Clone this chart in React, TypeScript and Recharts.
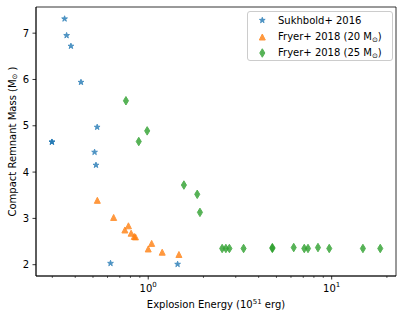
import React from 'react';
import { ScatterChart, Scatter, XAxis, YAxis, ReferenceArea, Legend } from 'recharts';

const sukhboldEnergy = [0.35, 0.359, 0.379, 0.43, 0.527, 0.2985, 0.2985, 0.51, 0.519, 0.623, 1.446];
const sukhboldMass = [7.31, 6.95, 6.72, 5.94, 4.97, 4.65, 4.65, 4.43, 4.15, 2.03, 2.01];

const fryer20Energy = [0.528, 0.648, 0.78, 0.746, 0.807, 0.839, 0.852, 1.0, 1.044, 1.192, 1.47];
const fryer20Mass = [3.39, 3.02, 2.84, 2.75, 2.68, 2.61, 2.6, 2.34, 2.46, 2.27, 2.22];

const fryer25Energy = [0.756, 0.987, 0.888, 1.565, 1.85, 1.914, 2.53, 2.65, 2.77, 3.31, 4.75, 4.75, 6.21, 7.09, 7.43, 8.42, 9.7, 14.8, 18.4];
const fryer25Mass = [5.54, 4.89, 4.66, 3.72, 3.52, 3.13, 2.35, 2.35, 2.35, 2.35, 2.35, 2.37, 2.37, 2.35, 2.35, 2.37, 2.35, 2.35, 2.35];

const seriesNames = ['Sukhbold+ 2016', 'Fryer+ 2018 (20 M', 'Fryer+ 2018 (25 M'];
const xTicks = [0.3, 0.4, 0.5, 0.6, 0.7, 0.8, 0.9, 1, 2, 3, 4, 5, 6, 7, 8, 9, 10, 20];
const yTicks = [2, 3, 4, 5, 6, 7];
const xDomain = [0.2445, 22.42];
const yDomain = [1.756, 7.565];

const BLUE = '#1f77b4';
const ORANGE = '#ff7f0e';
const GREEN = '#2ca02c';
const FONT = 'DejaVu Sans';

const toPoints = (xs: number[], ys: number[]) => xs.map((x, i) => ({ x, y: ys[i] }));
const sukhbold = toPoints(sukhboldEnergy, sukhboldMass);
const fryer20 = toPoints(fryer20Energy, fryer20Mass);
const fryer25 = toPoints(fryer25Energy, fryer25Mass);

const starPath = (cx: number, cy: number) => {
  const R = 3;
  const r = R * 0.381966;
  let d = '';
  for (let i = 0; i < 10; i++) {
    const a = (-90 + i * 36) * Math.PI / 180;
    const rad = i % 2 === 0 ? R : r;
    d += (i === 0 ? 'M' : 'L') + (cx + rad * Math.cos(a)).toFixed(2) + ',' + (cy + rad * Math.sin(a)).toFixed(2);
  }
  return d + 'Z';
};
const triPath = (cx: number, cy: number) => `M${cx},${cy - 3}L${cx - 3},${cy + 3}L${cx + 3},${cy + 3}Z`;
const diaPath = (cx: number, cy: number) => {
  const h = 4.24;
  const w = 0.6 * h;
  return `M${cx},${cy - h}L${cx + w},${cy}L${cx},${cy + h}L${cx - w},${cy}Z`;
};

const Marker = ({ d, color }: { d: string; color: string }) => (
  <path d={d} fill={color} stroke={color} strokeWidth={1} opacity={0.8} />
);

const StarShape = (p: any) => <Marker d={starPath(p.cx, p.cy)} color={BLUE} />;
const TriShape = (p: any) => <Marker d={triPath(p.cx, p.cy)} color={ORANGE} />;
const DiaShape = (p: any) => <Marker d={diaPath(p.cx, p.cy)} color={GREEN} />;

const XTick = (props: any) => {
  const { x, y, payload } = props;
  const v = payload.value;
  const major = v === 1 || v === 10;
  return (
    <g>
      <line x1={x} x2={x} y1={y} y2={y + (major ? 3.5 : 2)} stroke="#000" strokeWidth={major ? 0.8 : 0.6} />
      {major && (
        <text x={x} y={y + 15.5} textAnchor="middle" fontSize={10} fill="#000" fontFamily={FONT}>
          10<tspan fontSize={7} dy={-5}>{v === 1 ? '0' : '1'}</tspan>
        </text>
      )}
    </g>
  );
};

const YTick = (props: any) => {
  const { x, y, payload } = props;
  return (
    <g>
      <line x1={x - 3.5} x2={x} y1={y} y2={y} stroke="#000" strokeWidth={0.8} />
      <text x={x - 7} y={y + 3.6} textAnchor="end" fontSize={10} fill="#000" fontFamily={FONT}>
        {payload.value}
      </text>
    </g>
  );
};

const XLabel = (props: any) => {
  const vb = props.viewBox || { x: 36, y: 276, width: 360, height: 30 };
  return (
    <text x={vb.x + vb.width / 2} y={vb.y + 32} textAnchor="middle" fontSize={10} fill="#000" fontFamily={FONT}>
      Explosion Energy (10<tspan fontSize={7} dy={-4}>51</tspan><tspan dy={4}> erg)</tspan>
    </text>
  );
};

const YLabel = (props: any) => {
  const vb = props.viewBox || { x: 6, y: 7, width: 30, height: 269 };
  const cx = vb.x + 9.5;
  const cy = vb.y + vb.height / 2;
  return (
    <text x={cx} y={cy} transform={`rotate(-90, ${cx}, ${cy})`} textAnchor="middle" fontSize={10} fill="#000" fontFamily={FONT}>
      Compact Remnant Mass (M<tspan fontSize={7} dy={1.5}>⊙</tspan><tspan dy={-1.5}> )</tspan>
    </text>
  );
};

const LegendBox = () => {
  const rows = [
    { y: 9.3, base: 13, d: starPath(15.3, 9.3), color: BLUE, name: seriesNames[0], sub: false },
    { y: 26, base: 29.2, d: triPath(15.3, 26), color: ORANGE, name: seriesNames[1], sub: true },
    { y: 42, base: 45.2, d: diaPath(15.3, 42), color: GREEN, name: seriesNames[2], sub: true },
  ];
  return (
    <svg width={146} height={51} style={{ display: 'block', overflow: 'visible' }}>
      <rect x={0.5} y={0.5} width={145} height={49} rx={2.5} ry={2.5} fill="#fff" fillOpacity={0.8} stroke="#cccccc" strokeWidth={1} />
      {rows.map((r, i) => (
        <g key={i}>
          <Marker d={r.d} color={r.color} />
          <text x={31} y={r.base} fontSize={10} fill="#000" fontFamily={FONT}>
            {r.name}
            {r.sub && (
              <>
                <tspan fontSize={7} dy={1.5}>⊙</tspan>
                <tspan dy={-1.5}>)</tspan>
              </>
            )}
          </text>
        </g>
      ))}
    </svg>
  );
};

export default function App() {
  return (
    <div style={{ position: 'absolute', left: 0, top: 0, background: '#fff' }}>
      <ScatterChart
        width={404}
        height={318}
        margin={{ top: 7, right: 8, bottom: 12, left: 6 }}
        style={{ fontFamily: FONT }}
      >
        <XAxis
          dataKey="x"
          type="number"
          scale="log"
          domain={xDomain}
          allowDataOverflow
          ticks={xTicks}
          interval={0}
          tick={(p: any) => <XTick {...p} />}
          tickLine={false}
          tickSize={0}
          tickMargin={0}
          axisLine={{ stroke: '#000', strokeWidth: 0.8 }}
          height={30}
          label={<XLabel />}
        />
        <YAxis
          dataKey="y"
          type="number"
          domain={yDomain}
          allowDataOverflow
          ticks={yTicks}
          interval={0}
          tick={(p: any) => <YTick {...p} />}
          tickLine={false}
          tickSize={0}
          tickMargin={0}
          axisLine={{ stroke: '#000', strokeWidth: 0.8 }}
          width={30}
          label={<YLabel />}
        />
        <ReferenceArea
          x1={xDomain[0]}
          x2={xDomain[1]}
          y1={yDomain[0]}
          y2={yDomain[1]}
          fill="none"
          stroke="#000"
          strokeWidth={0.8}
          ifOverflow="visible"
        />
        <Scatter name={seriesNames[0]} data={sukhbold} shape={StarShape} isAnimationActive={false} />
        <Scatter name={seriesNames[1]} data={fryer20} shape={TriShape} isAnimationActive={false} />
        <Scatter name={seriesNames[2]} data={fryer25} shape={DiaShape} isAnimationActive={false} />
        <Legend
          layout="vertical"
          align="center"
          verticalAlign="middle"
          wrapperStyle={{ position: 'absolute', left: 247, top: 11, width: 146, height: 51 }}
          content={() => <LegendBox />}
        />
      </ScatterChart>
    </div>
  );
}
